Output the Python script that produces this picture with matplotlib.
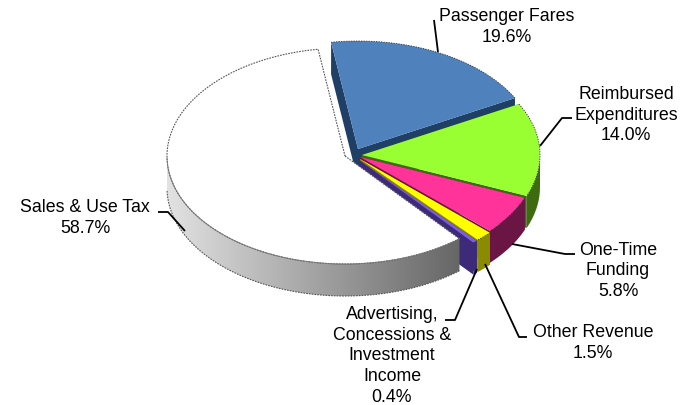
import numpy as np
import matplotlib
matplotlib.use("Agg")
import matplotlib.pyplot as plt
from matplotlib.colors import LinearSegmentedColormap
from matplotlib.patches import Polygon

plt.rcParams['font.family'] = ['Liberation Sans', 'DejaVu Sans']

categories = ["Passenger Fares", "Reimbursed\nExpenditures", "One-Time\nFunding",
              "Other Revenue", "Advertising,\nConcessions &\nInvestment\nIncome",
              "Sales & Use Tax"]
shares = [19.6, 14.0, 5.8, 1.5, 0.4, 58.7]

top_colors = ["#4f81bd", "#99ff33", "#ff3399", "#ffff00", "#7b5fe0", "#ffffff"]
wall_colors = ["#1f3f66", "#3f6b10", "#6b1545", "#8b8b00", "#3d2b7a", "#888888"]
# pie vertex of each slice after the explode, in pixels
vertices = [(358, 150), (362, 156), (360, 158), (360, 160), (359, 161), (345, 157)]
label_pos = [(507, 27), (626, 115), (618, 271), (593, 343), (392, 356), (85, 218)]
leaders = [
    [(434, 21), (438, 53)],
    [(540, 147), (562, 119), (572, 119)],
    [(512, 245), (565, 255), (575, 255)],
    [(485, 265), (519, 338), (527, 338)],
    [(477, 270), (455, 321), (445, 321)],
    [(158, 213), (168, 213), (185, 232)],
]

RX, RY = 178, 108
DEPTH = 32
START = -8.7


def rim(vx, vy, t):
    a = np.radians(t)
    return vx + RX * np.sin(a), vy - RY * np.cos(a)


fig = plt.figure(figsize=(6.89, 4.06), dpi=100)
ax = fig.add_axes([0, 0, 1, 1])

angles = START + np.cumsum([0] + shares) * 3.6

for i, share in enumerate(shares):
    t1, t2 = angles[i], angles[i + 1]
    vx, vy = vertices[i]
    ts = np.linspace(t1, t2, 150)
    rx_pts, ry_pts = rim(vx, vy, ts)
    z = 2 + i
    white = i == len(shares) - 1

    # walls on the two radial cuts
    if not white:
        for t in (t1, t2):
            ex, ey = rim(vx, vy, t)
            ax.add_patch(Polygon([(vx, vy), (ex, ey), (ex, ey + DEPTH), (vx, vy + DEPTH)],
                                 fc=wall_colors[i], ec="none", zorder=z))

    # outer wall, only where the rim faces the viewer
    front = ts[(ts > 90) & (ts < 270)]
    if len(front):
        fx, fy = rim(vx, vy, front)
        outer = np.r_[np.c_[fx, fy], np.c_[fx[::-1], fy[::-1] + DEPTH]]
        if white:
            clip = Polygon(outer, fc="none", ec="none", transform=ax.transData)
            ax.add_patch(clip)
            grad = np.linspace(0, 1, 256)[None, :]
            cmap = LinearSegmentedColormap.from_list("wall", ["#e2e2e2", "#666666"])
            im = ax.imshow(grad, extent=(fx.min(), fx.max(), fy.max() + DEPTH, fy.min()),
                           cmap=cmap, aspect="auto", zorder=z)
            im.set_clip_path(clip)
            ax.plot(fx, fy + DEPTH, color="#555555", lw=0.8, ls=(0, (1.5, 1)), zorder=z + 0.2)
            ax.plot(fx, fy, color="#777777", lw=0.6, zorder=z + 0.2)
        else:
            ax.add_patch(Polygon(outer, fc=wall_colors[i], ec="none", zorder=z))

    top = np.r_[[(vx, vy)], np.c_[rx_pts, ry_pts]]
    if white:
        ax.add_patch(Polygon(top, fc="white", ec="#555555", lw=0.8, ls=(0, (1.5, 1)), zorder=z + 0.1))
    else:
        ax.add_patch(Polygon(top, fc=top_colors[i], ec="none", zorder=z + 0.1))
        ax.plot(rx_pts, ry_pts, color="#333333", lw=0.6, ls=(0, (1.5, 1.5)), zorder=z + 0.15)

for pts in leaders:
    xs, ys = zip(*pts)
    ax.plot(xs, ys, color="black", lw=1.3, zorder=20, solid_capstyle="butt")

for name, share, (x, y) in zip(categories, shares, label_pos):
    ax.text(x, y, f"{name}\n{share:.1f}%", ha="center", va="center", fontsize=12.8,
            linespacing=1.27, color="black", zorder=21)

ax.set_xlim(0, 689)
ax.set_ylim(406, 0)
ax.axis("off")
fig.savefig("out.png", dpi=100)
